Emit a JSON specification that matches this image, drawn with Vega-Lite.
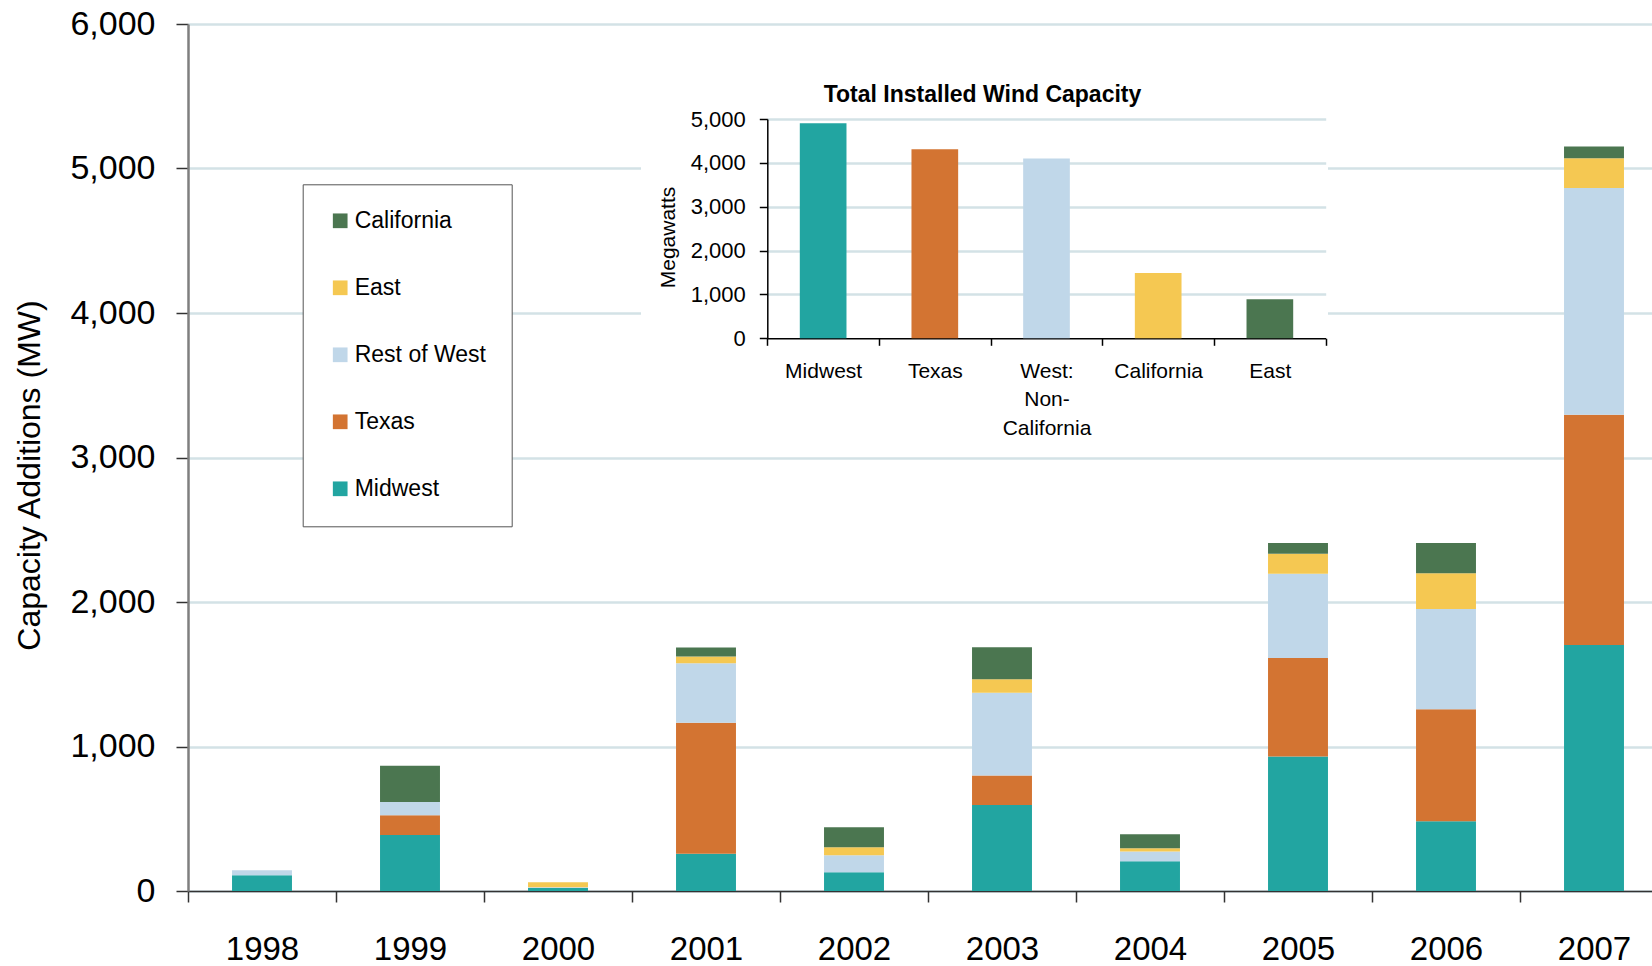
{
  "$schema": "https://vega.github.io/schema/vega-lite/v6.json",
  "autosize": {"type": "none"},
  "width": 1464,
  "height": 867,
  "padding": {"left": 188, "top": 24, "right": 0, "bottom": 75},
  "background": "white",
  "config": {
    "font": "Liberation Sans",
    "view": {"stroke": null},
    "axis": {"labelColor": "#000", "titleColor": "#000", "labelFont": "Liberation Sans", "titleFont": "Liberation Sans"},
    "legend": {"labelFont": "Liberation Sans", "labelColor": "#000"}
  },
  "datasets": {
    "additions": [
      {"year": "1998", "region": "Midwest", "MW": 109},
      {"year": "1998", "region": "Rest of West", "MW": 35},
      {"year": "1999", "region": "Midwest", "MW": 387},
      {"year": "1999", "region": "Texas", "MW": 138},
      {"year": "1999", "region": "Rest of West", "MW": 91},
      {"year": "1999", "region": "California", "MW": 250},
      {"year": "2000", "region": "Midwest", "MW": 21},
      {"year": "2000", "region": "Rest of West", "MW": 5},
      {"year": "2000", "region": "East", "MW": 34},
      {"year": "2001", "region": "Midwest", "MW": 257},
      {"year": "2001", "region": "Texas", "MW": 907},
      {"year": "2001", "region": "Rest of West", "MW": 412},
      {"year": "2001", "region": "East", "MW": 47},
      {"year": "2001", "region": "California", "MW": 62},
      {"year": "2002", "region": "Midwest", "MW": 130},
      {"year": "2002", "region": "Rest of West", "MW": 118},
      {"year": "2002", "region": "East", "MW": 55},
      {"year": "2002", "region": "California", "MW": 139},
      {"year": "2003", "region": "Midwest", "MW": 595},
      {"year": "2003", "region": "Texas", "MW": 205},
      {"year": "2003", "region": "Rest of West", "MW": 572},
      {"year": "2003", "region": "East", "MW": 94},
      {"year": "2003", "region": "California", "MW": 221},
      {"year": "2004", "region": "Midwest", "MW": 206},
      {"year": "2004", "region": "Rest of West", "MW": 67},
      {"year": "2004", "region": "East", "MW": 22},
      {"year": "2004", "region": "California", "MW": 98},
      {"year": "2005", "region": "Midwest", "MW": 931},
      {"year": "2005", "region": "Texas", "MW": 681},
      {"year": "2005", "region": "Rest of West", "MW": 583},
      {"year": "2005", "region": "East", "MW": 139},
      {"year": "2005", "region": "California", "MW": 74},
      {"year": "2006", "region": "Midwest", "MW": 482},
      {"year": "2006", "region": "Texas", "MW": 775},
      {"year": "2006", "region": "Rest of West", "MW": 695},
      {"year": "2006", "region": "East", "MW": 247},
      {"year": "2006", "region": "California", "MW": 209},
      {"year": "2007", "region": "Midwest", "MW": 1702},
      {"year": "2007", "region": "Texas", "MW": 1593},
      {"year": "2007", "region": "Rest of West", "MW": 1570},
      {"year": "2007", "region": "East", "MW": 206},
      {"year": "2007", "region": "California", "MW": 82}
    ],
    "total": [
      {"region": "Midwest", "MW": 4905},
      {"region": "Texas", "MW": 4310},
      {"region": "West: Non-California", "MW": 4100},
      {"region": "California", "MW": 1490},
      {"region": "East", "MW": 890}
    ]
  },
  "layer": [
    {
      "data": {"name": "additions"},
      "transform": [
        {"calculate": "indexof(['Midwest','Texas','Rest of West','East','California'], datum.region)", "as": "stackRank"}
      ],
      "mark": {"type": "bar", "width": {"band": 0.405}},
      "encoding": {
        "x": {
          "field": "year", "type": "ordinal",
          "scale": {"range": [0, 1480], "paddingInner": 0, "paddingOuter": 0},
          "axis": {
            "title": null, "labelAngle": 0, "tickBand": "extent", "tickSize": 11, "tickWidth": 1.5,
            "tickColor": "#333", "domainColor": "#333", "domainWidth": 1.5,
            "labelFontSize": 33, "labelPadding": 31, "grid": false
          }
        },
        "y": {
          "field": "MW", "type": "quantitative", "stack": "zero",
          "scale": {"domain": [0, 6000], "nice": false},
          "axis": {
            "title": "Capacity Additions (MW)", "values": [0, 1000, 2000, 3000, 4000, 5000, 6000], "format": ",d",
            "grid": true, "gridColor": "#d3e2e6", "gridWidth": 2.5,
            "domainColor": "#7f7f7f", "domainWidth": 2.5,
            "tickColor": "#333", "tickWidth": 1.5, "tickSize": 12,
            "labelFontSize": 34, "labelPadding": 21,
            "titleFontSize": 32, "titleFontWeight": "normal",
            "titleX": -158.5, "titleY": 451, "titleAngle": -90, "titleAlign": "center", "titleBaseline": "middle"
          }
        },
        "color": {
          "field": "region", "type": "nominal",
          "sort": ["California", "East", "Rest of West", "Texas", "Midwest"],
          "scale": {
            "domain": ["California", "East", "Rest of West", "Texas", "Midwest"],
            "range": ["#4B7650", "#F5C852", "#C0D7E9", "#D37432", "#22A5A1"]
          },
          "legend": {
            "title": null, "orient": "none", "legendX": 114.7, "legendY": 160.3, "direction": "vertical",
            "symbolType": "square", "symbolSize": 216, "symbolStrokeWidth": 0,
            "labelFontSize": 23, "labelOffset": 3, "rowPadding": 43, "padding": 25, "symbolOffset": 1,
            "strokeColor": "#555", "fillColor": "white"
          }
        },
        "order": {"field": "stackRank", "type": "quantitative"}
      }
    },
    {
      "data": {"name": "total"},
      "resolve": {"axis": {"x": "independent", "y": "independent"}},
      "layer": [
        {
          "mark": {"type": "bar", "width": {"band": 0.418}, "opacity": 0},
          "encoding": {
            "x": {
              "field": "region", "type": "nominal", "sort": null,
              "scale": {"domain": ["Midwest", "Texas", "West: Non-California", "California", "East"], "range": [579.3, 1137.7], "paddingInner": 0, "paddingOuter": 0},
              "axis": {
                "orient": "top", "offset": -424, "values": ["Texas"], "tickOffset": 48.7,
                "tickSize": 386, "tickWidth": 687, "tickColor": "white",
                "labels": false, "domain": false, "grid": false,
                "title": "Total Installed Wind Capacity", "titleX": 794, "titleY": -347,
                "titleFontSize": 23, "titleFontWeight": "bold", "titleAlign": "center", "titleBaseline": "alphabetic", "titleAngle": 0
              }
            },
            "y": {
              "field": "MW", "type": "quantitative",
              "scale": {"domain": [0, 5000], "range": [314.3, 95], "nice": false},
              "axis": {
                "orient": "left", "offset": -1137.7, "values": [1000, 2000, 3000, 4000, 5000],
                "tickSize": 558.4, "tickWidth": 2.5, "tickColor": "#d3e2e6",
                "labels": false, "domain": false, "grid": false, "title": null
              }
            }
          }
        },
        {
          "mark": {"type": "bar", "width": {"band": 0.418}},
          "encoding": {
            "x": {
              "field": "region", "type": "nominal", "sort": null,
              "scale": {"domain": ["Midwest", "Texas", "West: Non-California", "California", "East"], "range": [579.3, 1137.7], "paddingInner": 0, "paddingOuter": 0},
              "axis": {
                "orient": "bottom", "offset": -552.7, "tickBand": "extent", "tickSize": 7,
                "tickColor": "#000", "tickWidth": 1.5, "domainColor": "#000", "domainWidth": 1.5,
                "labelFontSize": 21, "labelPadding": 15, "labelLineHeight": 28.5, "labelAngle": 0,
                "labelExpr": "datum.value == 'West: Non-California' ? ['West:', 'Non-', 'California'] : datum.value",
                "title": null, "grid": false
              }
            },
            "y": {
              "field": "MW", "type": "quantitative",
              "scale": {"domain": [0, 5000], "range": [314.3, 95], "nice": false},
              "axis": {
                "orient": "left", "offset": -579.3, "values": [0, 1000, 2000, 3000, 4000, 5000], "format": ",d",
                "tickSize": 8, "tickColor": "#000", "tickWidth": 1.5, "domainColor": "#000", "domainWidth": 1.5,
                "labelFontSize": 22, "labelPadding": 14, "grid": false,
                "title": "Megawatts", "titleFontSize": 21, "titleFontWeight": "normal",
                "titleX": -99, "titleY": 213, "titleAngle": -90, "titleAlign": "center", "titleBaseline": "middle"
              }
            },
            "color": {
              "field": "region", "type": "nominal",
              "scale": {
                "domain": ["Midwest", "Texas", "West: Non-California", "California", "East"],
                "range": ["#22A5A1", "#D37432", "#C0D7E9", "#F5C852", "#4B7650"]
              },
              "legend": null
            }
          }
        }
      ]
    }
  ],
  "resolve": {"scale": {"x": "independent", "y": "independent", "color": "independent"}}
}
